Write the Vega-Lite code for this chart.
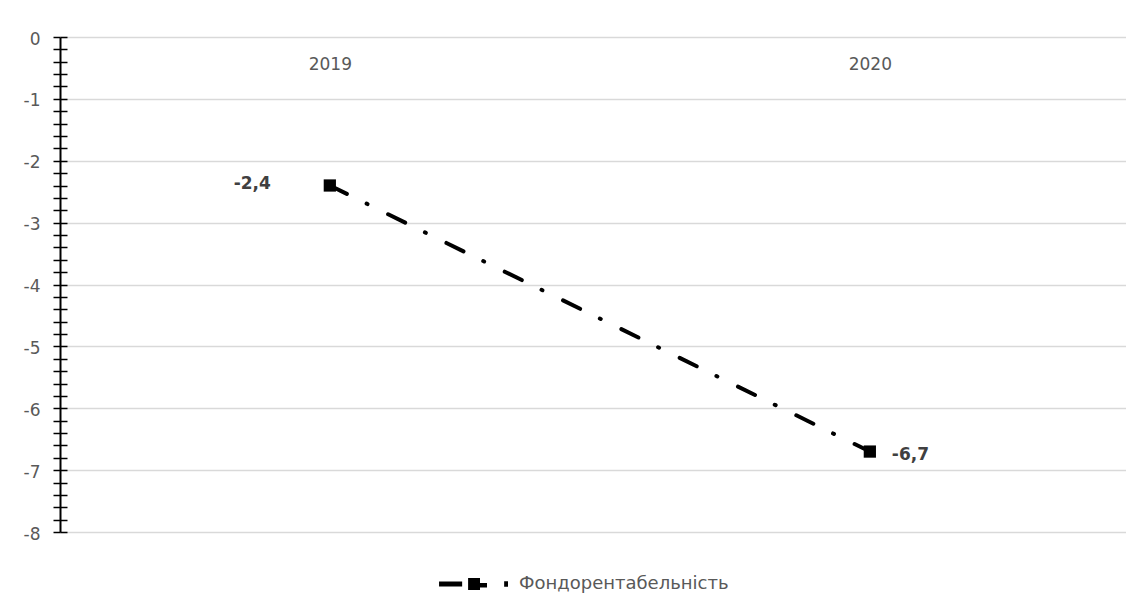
{
  "$schema": "https://vega.github.io/schema/vega-lite/v6.json",
  "width": 1066,
  "height": 495,
  "autosize": {"type": "none"},
  "padding": {"left": 60, "top": 37, "right": 0, "bottom": 83},
  "background": "#ffffff",
  "config": {
    "view": {"stroke": null},
    "font": "DejaVu Sans"
  },
  "data": {
    "values": [
      {"year": "2019", "value": -2.4, "label": "-2,4", "series": "Фондорентабельність"},
      {"year": "2020", "value": -6.7, "label": "-6,7", "series": "Фондорентабельність"}
    ]
  },
  "encoding": {
    "x": {
      "field": "year",
      "type": "ordinal",
      "scale": {"type": "point", "padding": 0.487, "align": 0.513},
      "axis": {
        "orient": "bottom",
        "offset": -495,
        "title": null,
        "domain": false,
        "ticks": false,
        "grid": false,
        "labelAngle": 0,
        "labelPadding": 19,
        "labelFontSize": 17,
        "labelColor": "#595959",
        "labelFont": "DejaVu Sans"
      }
    },
    "y": {
      "field": "value",
      "type": "quantitative",
      "scale": {"domain": [-8, 0], "nice": false, "zero": false},
      "axis": null
    }
  },
  "layer": [
    {
      "mark": {"type": "line", "color": "#000000", "strokeWidth": 4, "strokeDash": [19, 22, 1, 23], "strokeCap": "round"},
      "encoding": {
        "y": {
          "field": "value",
          "type": "quantitative",
          "scale": {"domain": [-8, 0], "nice": false, "zero": false},
          "axis": {
            "orient": "left",
            "title": null,
            "values": [0, -0.2, -0.4, -0.6, -0.8, -1, -1.2, -1.4, -1.6, -1.8, -2, -2.2, -2.4, -2.6, -2.8, -3, -3.2, -3.4, -3.6, -3.8, -4, -4.2, -4.4, -4.6, -4.8, -5, -5.2, -5.4, -5.6, -5.8, -6, -6.2, -6.4, -6.6, -6.8, -7, -7.2, -7.4, -7.6, -7.8, -8],
            "labelExpr": "datum.value % 1 === 0 ? '' + datum.value : ''",
            "domain": true,
            "domainColor": "#000000",
            "domainWidth": 2,
            "ticks": true,
            "tickColor": "#000000",
            "tickWidth": 1.5,
            "tickSize": 7,
            "labelPadding": 13,
            "labelFontSize": 17,
            "labelColor": "#595959",
            "labelFont": "DejaVu Sans",
            "labelOffset": 2,
            "labelOverlap": false,
            "grid": true,
            "gridColor": "#d9d9d9",
            "gridWidth": 1.5,
            "gridOpacity": {"condition": {"test": "datum.value % 1 === 0", "value": 1}, "value": 0}
          }
        }
      }
    },
    {
      "mark": {"type": "point", "shape": "square", "size": 150, "filled": true, "opacity": 1},
      "encoding": {
        "y": {
          "field": "value",
          "type": "quantitative",
          "scale": {"domain": [-8, 0], "nice": false, "zero": false},
          "axis": {
            "orient": "right",
            "offset": -1066,
            "title": null,
            "values": [0, -0.2, -0.4, -0.6, -0.8, -1, -1.2, -1.4, -1.6, -1.8, -2, -2.2, -2.4, -2.6, -2.8, -3, -3.2, -3.4, -3.6, -3.8, -4, -4.2, -4.4, -4.6, -4.8, -5, -5.2, -5.4, -5.6, -5.8, -6, -6.2, -6.4, -6.6, -6.8, -7, -7.2, -7.4, -7.6, -7.8, -8],
            "labels": false,
            "domain": false,
            "grid": false,
            "ticks": true,
            "tickColor": "#000000",
            "tickWidth": 1.5,
            "tickSize": 7
          }
        },
        "color": {
          "field": "series",
          "type": "nominal",
          "scale": {"range": ["#000000"]},
          "legend": {
            "title": null,
            "orient": "none",
            "legendX": 378,
            "legendY": 512,
            "padding": 0,
            "symbolType": "M-0.97,-0.07H-0.31V0.07H-0.97Z M-0.14,-0.17H0.2V0.17H-0.14Z M0.2,-0.03H0.4V0.1H0.2Z M0.89,-0.08H1.0V0.08H0.89Z",
            "symbolSize": 4900,
            "symbolStrokeWidth": 0,
            "symbolFillColor": "#000000",
            "symbolOpacity": 1,
            "labelOffset": 11,
            "labelLimit": 0,
            "labelFontSize": 18,
            "labelColor": "#595959",
            "labelFont": "DejaVu Sans"
          }
        }
      }
    },
    {
      "transform": [{"filter": "datum.year === '2019'"}],
      "mark": {"type": "text", "align": "right", "baseline": "middle", "dx": -59, "dy": -2, "fontSize": 17, "fontWeight": "bold", "color": "#404040", "font": "DejaVu Sans"},
      "encoding": {"text": {"field": "label"}}
    },
    {
      "transform": [{"filter": "datum.year === '2020'"}],
      "mark": {"type": "text", "align": "left", "baseline": "middle", "dx": 22, "dy": 3, "fontSize": 17, "fontWeight": "bold", "color": "#404040", "font": "DejaVu Sans"},
      "encoding": {"text": {"field": "label"}}
    }
  ],
  "resolve": {"axis": {"y": "independent"}}
}
